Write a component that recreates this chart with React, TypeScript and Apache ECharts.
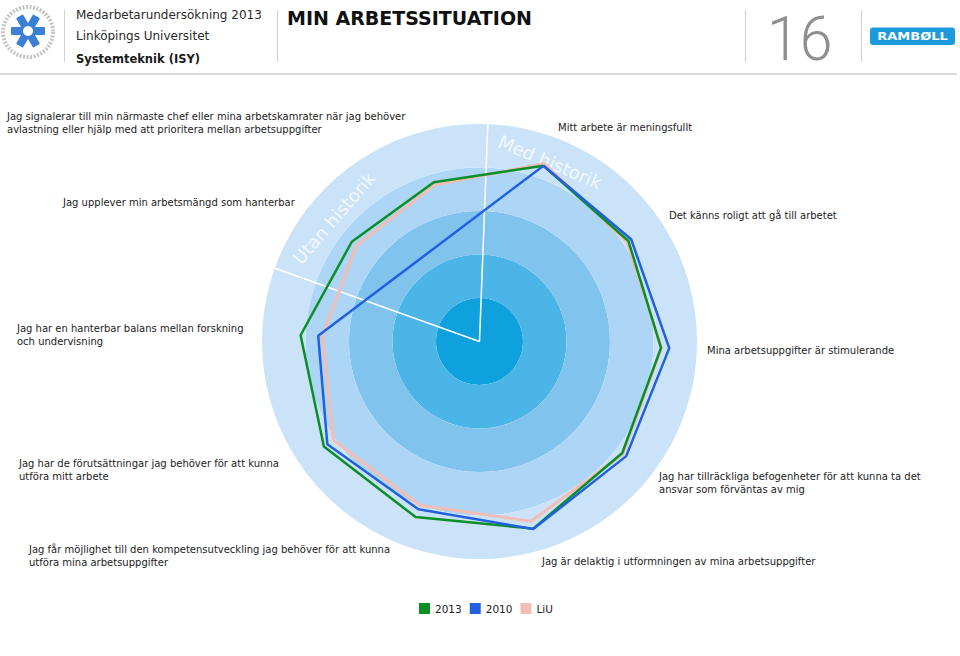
import React, { useEffect, useRef } from "react";
import * as echarts from "echarts";

// ---- Data ----
const categories: string[] = [
  "Mitt arbete är meningsfullt",
  "Det känns roligt att gå till arbetet",
  "Mina arbetsuppgifter är stimulerande",
  "Jag har tillräckliga befogenheter för att kunna ta det\nansvar som förväntas av mig",
  "Jag är delaktig i utformningen av mina arbetsuppgifter",
  "Jag får möjlighet till den kompetensutveckling jag behöver för att kunna\nutföra mina arbetsuppgifter",
  "Jag har de förutsättningar jag behöver för att kunna\nutföra mitt arbete",
  "Jag har en hanterbar balans mellan forskning\noch undervisning",
  "Jag upplever min arbetsmängd som hanterbar",
  "Jag signalerar till min närmaste chef eller mina arbetskamrater när jag behöver\navlastning eller hjälp med att prioritera mellan arbetsuppgifter",
];
const values2013: (number | null)[] = [86, 82.6, 83.5, 83.3, 89.5, 85.9, 86.3, 82.3, 74.5, 76.2];
const values2010: (number | null)[] = [86, 84.1, 87.3, 85.6, 89.7, 82.1, 84.4, 74.2, null, null];
const valuesLiU: (number | null)[] = [87.1, 81.8, 83.8, 83.8, 86, 80.1, 81, 72.2, 71.8, 74.8];
const seriesNames = ["2013", "2010", "LiU"];
const ringTicks = { min: 0, max: 100, interval: 20 };

// ---- Layout / styles ----
const labelPos: [number, number][] = [
  [558, 121.5],
  [669, 209],
  [707, 344.5],
  [659, 470.5],
  [542, 555.5],
  [29, 543.5],
  [19, 457.5],
  [17, 322],
  [63, 196],
  [7, 110.5],
];
const ringColors = ["#0ea1de", "#4ab5e6", "#80c4ee", "#add5f5", "#cbe3f8"];
const colors: Record<string, string> = { "2013": "#0a8f27", "2010": "#2160e0", LiU: "#f2bdb5" };

function closedLine(vals: (number | null)[]) {
  const pts: [number, number][] = [];
  vals.forEach((v, i) => {
    if (v !== null && v !== undefined) pts.push([v, i]);
  });
  if (pts.length) pts.push(pts[0]);
  return pts;
}

export default function App() {
  const ref = useRef<HTMLDivElement>(null);
  useEffect(() => {
    if (!ref.current) return;
    const chart = echarts.init(ref.current, undefined, { renderer: "svg" });
    const cx = 479.5;
    const cy = 341.5;
    const R = 217.5;
    const deg = Math.PI / 180;
    const lblFont = "'DejaVu Sans', Verdana, sans-serif";

    const labelTexts = categories.map((c, i) => ({
      type: "text",
      x: labelPos[i][0],
      y: labelPos[i][1],
      style: {
        text: c,
        fill: "#222",
        font: `10px ${lblFont}`,
        lineHeight: 12.8,
        textAlign: "left",
        textVerticalAlign: "top",
      },
    }));

    const barShapes = [0, 60, 120].map((a) => ({
      type: "rect",
      x: 28,
      y: 31,
      rotation: a * deg,
      shape: { x: -17, y: -4, width: 34, height: 8, r: 1 },
      style: { fill: "#3c7fd6" },
    }));

    const seriesData: Record<string, (number | null)[]> = {
      "2013": values2013,
      "2010": values2010,
      LiU: valuesLiU,
    };
    const order = ["LiU", "2013", "2010"];

    chart.setOption({
      animation: false,
      polar: { center: [cx, cy], radius: R },
      angleAxis: {
        type: "category",
        data: categories,
        boundaryGap: true,
        startAngle: 88,
        clockwise: true,
        axisLine: { show: false },
        axisTick: { show: false },
        axisLabel: { show: false },
        splitLine: { show: false },
      },
      radiusAxis: {
        type: "value",
        min: ringTicks.min,
        max: ringTicks.max,
        interval: ringTicks.interval,
        axisLine: { show: false },
        axisTick: { show: false },
        axisLabel: { show: false },
        splitLine: { show: false },
        splitArea: { show: true, areaStyle: { color: ringColors } },
      },
      legend: {
        data: seriesNames,
        left: 414,
        top: 598,
        icon: "rect",
        itemWidth: 11,
        itemHeight: 11,
        itemGap: 8,
        textStyle: { fontSize: 10.5, color: "#222", fontFamily: lblFont },
      },
      series: order.map((name) => ({
        name,
        type: "line",
        coordinateSystem: "polar",
        data: closedLine(seriesData[name]),
        symbol: "none",
        connectNulls: true,
        clip: false,
        color: colors[name],
        lineStyle: { color: colors[name], width: name === "LiU" ? 3 : 2.5 },
        z: 3,
      })),
      graphic: [
        {
          type: "line",
          z: 1,
          shape: { x1: cx, y1: cy, x2: 487.8, y2: 124.7 },
          style: { stroke: "#ffffff", lineWidth: 1.5 },
        },
        {
          type: "line",
          z: 1,
          shape: { x1: cx, y1: cy, x2: 275, y2: 268.3 },
          style: { stroke: "#ffffff", lineWidth: 1.5 },
        },
        {
          type: "text",
          z: 1,
          x: 550,
          y: 162,
          rotation: -23 * deg,
          style: {
            text: "Med historik",
            fill: "rgba(255,255,255,0.75)",
            font: `18px ${lblFont}`,
            textAlign: "center",
            textVerticalAlign: "middle",
          },
        },
        {
          type: "text",
          z: 1,
          x: 334,
          y: 218,
          rotation: 49 * deg,
          style: {
            text: "Utan historik",
            fill: "rgba(255,255,255,0.75)",
            font: `18px ${lblFont}`,
            textAlign: "center",
            textVerticalAlign: "middle",
          },
        },
        ...labelTexts,
        // header
        {
          type: "circle",
          shape: { cx: 28, cy: 32, r: 25 },
          style: { fill: "none", stroke: "#c4c4c4", lineWidth: 4, lineDash: [2, 1.5] },
        },
        ...barShapes,
        {
          type: "circle",
          shape: { cx: 28, cy: 31, r: 5 },
          style: { fill: "#ffffff" },
        },
        {
          type: "line",
          shape: { x1: 64.5, y1: 10, x2: 64.5, y2: 62 },
          style: { stroke: "#d0d0d0", lineWidth: 1 },
        },
        {
          type: "text",
          x: 76,
          y: 15,
          style: {
            text: "Medarbetarundersökning 2013",
            fill: "#2a2a2a",
            font: `12px ${lblFont}`,
            textVerticalAlign: "middle",
          },
        },
        {
          type: "text",
          x: 76,
          y: 36,
          style: {
            text: "Linköpings Universitet",
            fill: "#2a2a2a",
            font: `12px ${lblFont}`,
            textVerticalAlign: "middle",
          },
        },
        {
          type: "text",
          x: 76,
          y: 59,
          style: {
            text: "Systemteknik (ISY)",
            fill: "#1a1a1a",
            font: `bold 11.5px ${lblFont}`,
            textVerticalAlign: "middle",
          },
        },
        {
          type: "line",
          shape: { x1: 277.5, y1: 10, x2: 277.5, y2: 62 },
          style: { stroke: "#d0d0d0", lineWidth: 1 },
        },
        {
          type: "text",
          x: 287,
          y: 18,
          style: {
            text: "MIN ARBETSSITUATION",
            fill: "#111",
            font: `bold 19px ${lblFont}`,
            textVerticalAlign: "middle",
          },
        },
        {
          type: "line",
          shape: { x1: 745.5, y1: 10, x2: 745.5, y2: 62 },
          style: { stroke: "#d0d0d0", lineWidth: 1 },
        },
        {
          type: "text",
          x: 767,
          y: 39,
          scaleX: 0.95,
          style: {
            text: "16",
            fill: "#8f8f8f",
            font: `300 62px Roboto, sans-serif`,
            textVerticalAlign: "middle",
          },
        },
        {
          type: "line",
          shape: { x1: 861.5, y1: 10, x2: 861.5, y2: 62 },
          style: { stroke: "#d0d0d0", lineWidth: 1 },
        },
        {
          type: "rect",
          shape: { x: 870, y: 27.5, width: 85, height: 17.5, r: 3 },
          style: { fill: "#1b9bdc" },
        },
        {
          type: "text",
          x: 912.5,
          y: 36.5,
          scaleX: 1.3,
          style: {
            text: "RAMBØLL",
            fill: "#ffffff",
            font: `bold 10px ${lblFont}`,
            textAlign: "center",
            textVerticalAlign: "middle",
          },
        },
        {
          type: "line",
          shape: { x1: 0, y1: 74, x2: 957, y2: 74 },
          style: { stroke: "#cfcfcf", lineWidth: 1.5 },
        },
      ],
    });
    return () => chart.dispose();
  }, []);
  return (
    <div
      ref={ref}
      style={{ position: "absolute", left: 0, top: 0, width: 960, height: 656, background: "#fff" }}
    />
  );
}
